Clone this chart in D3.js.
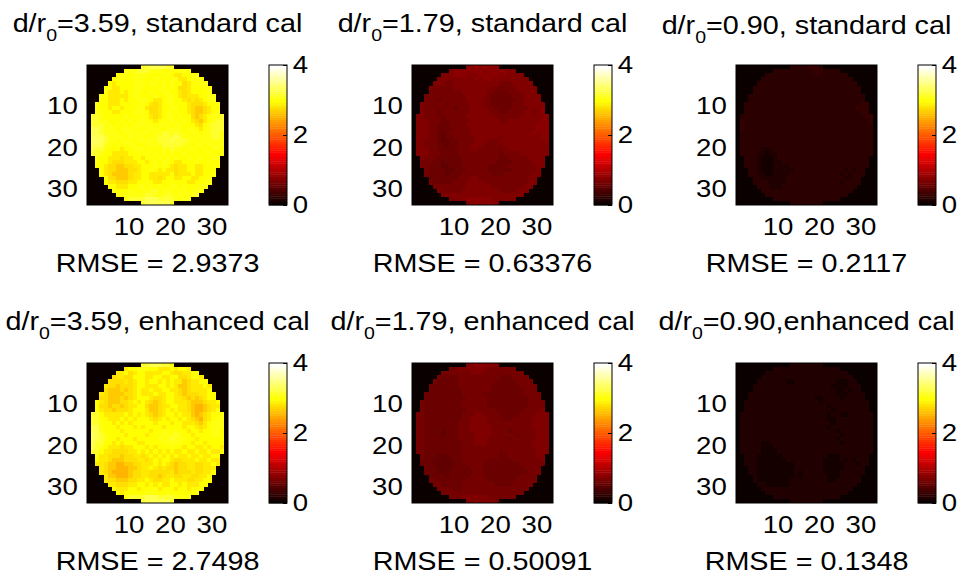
<!DOCTYPE html>
<html>
<head>
<meta charset="utf-8">
<script src="https://cdn.jsdelivr.net/npm/d3@7"></script>
<style>
body { margin: 0; background: #fff; }
svg { display: block; }
text { font-family: "Liberation Sans", Arial, Helvetica, sans-serif; fill: #000; }
</style>
</head>
<body>
<div id="chart"></div>
<script>
// text pieces
const titleTails = ["=3.59, standard cal", "=1.79, standard cal", "=0.90, standard cal",
                    "=3.59, enhanced cal", "=1.79, enhanced cal", "=0.90,enhanced cal"];
const rmseValues = ["2.9373", "0.63376", "0.2117", "2.7498", "0.50091", "0.1348"];
const gridTicks = [10, 20, 30];
const colorbarTicks = [0, 2, 4];

// value for each digit of the grid strings (one table per panel)
const levels1 = [2.55, 2.65, 2.75, 2.85, 2.95, 3.05, 3.15, 3.25, 3.35, 3.45];
const levels2 = [0.53, 0.59, 0.66, 0.72, 0.78, 0.84];
const levels3 = [0.07, 0.13, 0.19, 0.26, 0.32];
const levels4 = [2.45, 2.55, 2.65, 2.75, 2.85, 2.95, 3.05, 3.15, 3.25, 3.35];
const levels5 = [0.53, 0.59, 0.66, 0.72, 0.78, 0.84];
const levels6 = [0.07, 0.13, 0.19, 0.26, 0.32];

// pupil rows, top to bottom; only the cells inside the aperture are listed (centred in a 34 wide row)
const grid1 = [
  "66777766",
  "55566 655544 54554",
  "4554 55554 44554 33445 5",
  "45544 555445 544553 34554",
  "43444 455545 545454 423445 5",
  "44334 445554 445545 422344 454",
  "43334 345544 544554 432344 445",
  "54333 334554 445445 543233 34455",
  "44333 434455 543345 544323 23455",
  "54433 344454 543234 554443 222344 5",
  "54434 434445 532234 455443 211234 4",
  "55443 344455 542234 545443 211234 5",
  "665444 445454 543234 554544 212345 56",
  "665544 454545 554345 455454 321345 66",
  "666554 545455 555455 545544 432456 66",
  "776555 455545 455554 555545 543456 66",
  "776555 545555 554556 656554 554556 65",
  "877655 554555 545566 667655 455556 65",
  "887655 455545 555566 676665 545555 55",
  "777554 545554 455556 666655 455455 55",
  "766544 434455 545455 565545 544545 54",
  "665443 333445 454545 454454 454454 45",
  "54433 323344 345454 545445 445445 5",
  "54432 223334 434545 543344 454454 4",
  "44322 112233 444545 432334 433445 4",
  "43221 112234 454343 323344 33444",
  "43211 112334 433333 423334 33445",
  "42211 123344 332344 334433 445",
  "43322 233445 433445 444334 455",
  "44333 445545 454455 454445 5",
  "54445 545556 455545 54555",
  "54555 556655 565555 556",
  "56666 777666 65555",
  "67777776"
];
const grid2 = [
  "44445444",
  "34444 444344 44433",
  "33344 433344 444343 333",
  "33333 333343 443333 33333",
  "33322 333333 333332 223333 3",
  "32222 233333 333322 122233 333",
  "22222 222333 333221 112223 333",
  "22222 222223 333321 111122 23333",
  "22212 222223 333221 111112 23333",
  "32222 212222 233322 111112 223333 3",
  "32222 222122 233332 211112 222333 4",
  "32221 222222 233333 221122 223323 4",
  "332222 122222 333333 322222 233333 34",
  "333222 112222 233333 332233 333333 44",
  "333221 112222 333333 333333 333334 44",
  "333221 111222 233333 333333 333334 44",
  "333221 012222 233333 333333 333343 44",
  "333221 011222 223333 332333 333333 44",
  "332221 001122 223332 223333 333333 34",
  "332221 101122 233322 222333 333333 33",
  "333221 111122 233222 222233 333333 33",
  "333222 111122 222222 221222 233333 33",
  "32221 111112 222222 221122 222333 3",
  "22211 011112 222222 211112 222233 3",
  "22111 001112 222221 111122 222223 3",
  "21111 001112 222211 111122 22223",
  "21111 011122 222221 112222 22233",
  "11111 112223 322222 222222 233",
  "21111 122233 332222 222222 233",
  "22222 222333 333222 222223 3",
  "32222 233333 333322 22333",
  "33333 333333 333333 333",
  "33334 444443 33333",
  "34444443"
];
const grid3 = [
  "22223332",
  "22222 222233 32222",
  "22222 222222 232222 222",
  "22222 222222 222222 22222",
  "22222 222222 222222 222222 2",
  "22222 222222 222222 222222 222",
  "22222 222222 222222 222222 222",
  "22222 222222 222222 222222 22222",
  "22222 222222 222222 222222 22222",
  "22222 222222 222222 222222 222223 3",
  "22222 222222 222222 222222 222233 3",
  "22222 222222 222222 222222 222223 3",
  "222222 222222 222222 222222 222222 33",
  "322222 222222 222222 222222 222222 23",
  "322222 222222 222222 222222 222222 22",
  "322222 222222 222222 222222 222222 22",
  "222222 222222 222222 222222 222222 22",
  "222222 222222 222222 222222 222222 22",
  "222222 222222 222222 222222 222222 22",
  "222222 222222 222222 222222 222222 22",
  "22222 111 222222 222222 222222 222222",
  "2222 11011 222222 222222 222222 22222",
  "222 10001 222222 222222 222222 2222",
  "222 100011 222222 222222 222222 222",
  "222 10001111 222222 222222 222222 2",
  "22 100011111 22222222222 2121 22",
  "22 11001111 222222222222 1212 22",
  "2 21111112 222222222222 2112 2",
  "2222 1111 2222222222222 1222 2",
  "222 1112 22222222222222222",
  "22222 222222 222222 22222",
  "22222 222222 222222 222",
  "22222 222222 22222",
  "22222222"
];
const grid4 = [
  "77888776",
  "45566 655444 54554",
  "4453 45544 44554 33445 5",
  "34433 555445 544553 34554",
  "33334 345545 545454 423445 5",
  "43323 334554 445545 422344 454",
  "32223 234544 544554 432344 445",
  "43222 233454 445445 543233 34455",
  "33222 323455 543345 544323 23455",
  "54322 233454 543234 554443 222344 5",
  "53323 323445 532234 455443 211234 4",
  "54332 333455 542234 545443 211234 5",
  "775444 445454 543234 554544 212345 56",
  "775544 454545 554345 455454 321345 66",
  "776554 545455 555455 545544 432456 66",
  "886555 455545 455554 555545 543456 66",
  "886555 545555 554556 656554 554556 65",
  "987655 554555 545566 667655 455556 65",
  "987655 455545 555566 676665 545555 55",
  "877554 545554 455556 666655 455455 55",
  "876544 434455 545455 565545 544545 54",
  "775443 333445 454545 454454 454454 45",
  "64433 323344 345454 545445 445445 5",
  "54432 223334 434545 543344 454454 4",
  "44322 112233 444545 432334 433445 4",
  "43221 112234 454343 323344 33444",
  "43211 112334 433333 423334 33445",
  "42211 123344 332344 334433 445",
  "43322 233445 433445 444334 455",
  "44333 445545 454455 454445 5",
  "54445 545556 455545 54555",
  "54555 556655 565555 556",
  "67777 888777 76666",
  "78888887"
];
const grid5 = [
  "33444333",
  "22333 333322 22222",
  "22222 223332 222222 222",
  "21111 222222 222211 12222",
  "21111 122222 222211 111222 2",
  "11111 112222 222211 111112 222",
  "11111 111222 222211 111111 222",
  "11111 111122 222111 111111 12222",
  "11111 111112 222211 111111 11222",
  "21111 111112 222221 111111 111222 2",
  "21111 111112 222221 111111 111222 2",
  "21111 111111 222222 211111 112222 3",
  "221111 111112 223322 221111 122223 33",
  "221111 111112 233332 222112 222233 33",
  "221111 111122 233332 222222 222233 33",
  "221111 111122 233333 222222 222233 33",
  "221111 011122 233333 222212 222223 33",
  "221111 011122 223333 222222 122223 33",
  "221111 111122 223332 222212 222223 33",
  "221111 111112 223332 222222 222233 33",
  "221111 111112 222222 222222 222233 33",
  "221111 111112 222222 221222 222223 33",
  "21110 001112 222222 221122 222223 3",
  "11100 000112 222221 111112 222222 3",
  "11100 000111 222211 111111 122222 2",
  "11100 001111 222111 111111 12222",
  "11100 011111 122111 111111 11222",
  "11110 111112 221111 111112 222",
  "21111 111122 222111 111122 222",
  "22111 112222 222211 112222 2",
  "22221 122222 222222 22222",
  "22222 222222 222222 222",
  "22233 333322 22222",
  "33333332"
];
const grid6 = [
  "11111111",
  "11111 111111 11111",
  "11111 111111 111111 111",
  "11111 111111 111111 11111",
  "11111 110011 111111 110001 1",
  "11111 111111 111111 110000 111",
  "11111 111111 111111 111001 011",
  "11111 111111 111111 111100 01111",
  "11111 111111 111110 011110 11111",
  "11111 111111 111111 101111 111111 1",
  "11111 111111 111111 111011 111111 1",
  "11111 111111 111111 111101 111111 1",
  "111111 111111 111111 111011 001111 11",
  "111111 111111 111111 111001 111111 11",
  "111111 111111 111111 111101 111111 11",
  "111111 111111 111111 111011 111111 11",
  "111111 111111 111111 111110 111111 11",
  "111111 111111 111111 111111 011111 11",
  "111111 111111 111111 111110 111111 11",
  "111110 011111 111111 111111 011111 11",
  "111110 001111 111111 111111 111111 11",
  "111110 000111 111111 111111 111111 11",
  "11100 000011 111111 111000 111111 1",
  "11100 000001 111111 110000 101011 1",
  "11100 000000 011111 110000 011101 1",
  "11000 000000 111111 100000 11111",
  "11000 000000 101111 100001 11111",
  "10000 000001 011111 100011 111",
  "10000 000011 111111 100111 111",
  "11000 000111 111111 111111 1",
  "11111 111111 111111 11111",
  "11111 111111 111111 111",
  "11111 111111 11111",
  "11111111"
];

const grids = [grid1, grid2, grid3, grid4, grid5, grid6];
const levels = [levels1, levels2, levels3, levels4, levels5, levels6];

const width = 966, height = 577;
const gridSize = 34;
const imgW = 141, imgH = 140;
const colLeft = [87, 412, 736];
const rowTop = [65, 363];
const titleDy = [0, 0, 2, 0, 0, 0];
const cbGap = 41, cbW = 18;
const stretch = 1.15; // text in the picture is a little wide

// matlab hot(64)
const hotColors = d3.range(64).map(i => {
    const k = i + 1;
    return d3.rgb(
        255 * Math.min(1, k / 24),
        255 * Math.max(0, Math.min(1, (k - 24) / 24)),
        255 * Math.max(0, (k - 48) / 16)
    ).formatHex();
});
const color = d3.scaleQuantize().domain([0, 4]).range(hotColors);

const svg = d3.select("#chart").append("svg").attr("width", width).attr("height", height);
svg.append("rect").attr("width", width).attr("height", height).attr("fill", "#fff");

grids.forEach(function (grid, i) {
    const x0 = colLeft[i % 3];
    const y0 = rowTop[Math.floor(i / 3)];
    const cx = x0 + imgW / 2;

    const xScale = d3.scaleLinear().domain([0, gridSize]).range([x0, x0 + imgW]);
    const yScale = d3.scaleLinear().domain([0, gridSize]).range([y0, y0 + imgH]);

    const g = svg.append("g");

    // zero background outside the aperture
    g.append("rect")
        .attr("x", x0).attr("y", y0)
        .attr("width", imgW).attr("height", imgH)
        .attr("fill", color(0));

    const cells = [];
    grid.forEach((row, r) => {
        const s = row.replace(/ /g, "");
        const start = Math.floor((gridSize - s.length) / 2);
        for (let j = 0; j < s.length; j++) {
            cells.push({ r: r, c: start + j, v: levels[i][+s[j]] });
        }
    });

    g.selectAll("rect.cell")
        .data(cells)
        .join("rect")
        .attr("class", "cell")
        .attr("x", d => xScale(d.c))
        .attr("y", d => yScale(d.r))
        .attr("width", d => xScale(d.c + 1) - xScale(d.c) + 0.4)
        .attr("height", d => yScale(d.r + 1) - yScale(d.r) + 0.4)
        .attr("shape-rendering", "crispEdges")
        .attr("fill", d => color(d.v));

    g.append("rect")
        .attr("x", x0).attr("y", y0)
        .attr("width", imgW).attr("height", imgH)
        .attr("fill", "none").attr("stroke", "#000").attr("stroke-width", 1);

    // axes
    const yAxis = d3.axisLeft(yScale).tickValues(gridTicks).tickSize(0).tickPadding(8);
    const xAxis = d3.axisBottom(xScale).tickValues(gridTicks).tickSize(0).tickPadding(13);

    g.append("g")
        .attr("transform", `translate(${x0},0)`)
        .call(yAxis)
        .call(a => a.select(".domain").remove());

    g.append("g")
        .attr("transform", `translate(0,${y0 + imgH})`)
        .call(xAxis)
        .call(a => a.select(".domain").remove());

    // colorbar
    const cbX = x0 + imgW + cbGap;
    const cScale = d3.scaleLinear().domain([0, 4]).range([y0 + imgH, y0]);

    g.selectAll("rect.band")
        .data(hotColors)
        .join("rect")
        .attr("class", "band")
        .attr("x", cbX)
        .attr("y", (d, k) => cScale((k + 1) * 4 / 64))
        .attr("width", cbW)
        .attr("height", (d, k) => cScale(k * 4 / 64) - cScale((k + 1) * 4 / 64) + 0.4)
        .attr("fill", d => d);

    g.append("rect")
        .attr("x", cbX).attr("y", y0)
        .attr("width", cbW).attr("height", imgH)
        .attr("fill", "none").attr("stroke", "#000").attr("stroke-width", 1);

    g.append("g")
        .attr("transform", `translate(${cbX + cbW},0)`)
        .call(d3.axisRight(cScale).tickValues(colorbarTicks).tickFormat(d3.format("d")).tickSize(-4).tickPadding(5))
        .call(a => a.select(".domain").remove());

    g.selectAll(".tick line").attr("stroke", "#000");
    g.selectAll(".tick text")
        .attr("font-size", 24)
        .attr("font-family", null)
        .attr("transform", `scale(${stretch},1)`);

    // title with subscript
    const title = g.append("text")
        .attr("transform", `translate(${cx},${y0 - 33 + titleDy[i]}) scale(${stretch},1)`)
        .attr("text-anchor", "middle")
        .attr("font-size", 25);
    title.append("tspan").text("d/r");
    title.append("tspan").attr("font-size", 17).attr("dy", 9).text("0");
    title.append("tspan").attr("dy", -9).text(titleTails[i]);

    g.append("text")
        .attr("transform", `translate(${cx},${y0 + imgH + 67}) scale(${stretch},1)`)
        .attr("text-anchor", "middle")
        .attr("font-size", 25)
        .text("RMSE = " + rmseValues[i]);
});
</script>
</body>
</html>
